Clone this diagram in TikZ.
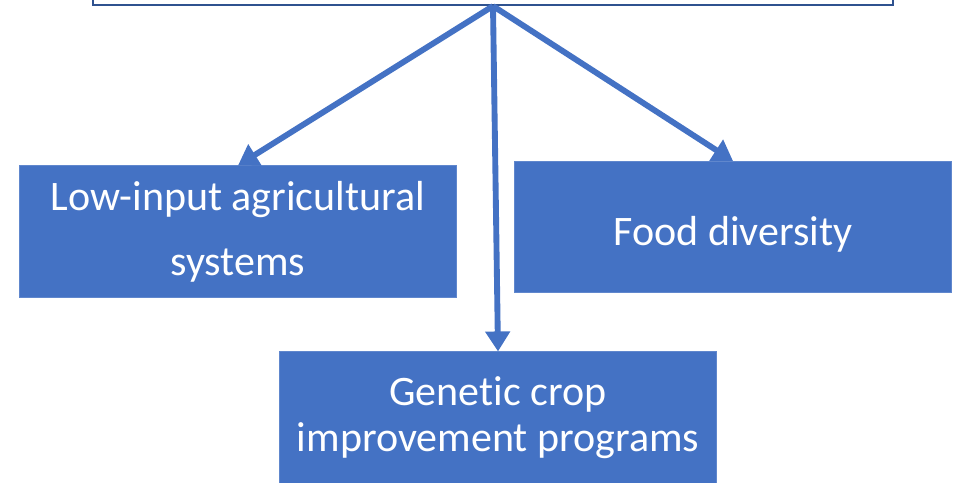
\documentclass[tikz,border=0pt]{standalone}
\usepackage{fontspec}
\setmainfont{Carlito}[Ligatures=NoCommon]
\usetikzlibrary{shapes, calc, arrows.meta}

\definecolor{boxblue}{HTML}{4472C4}
\definecolor{edgeblue}{HTML}{2F528F}

\tikzset{
	branch/.style={rectangle, fill=boxblue, draw=boxblue!85!white, line width=0.6pt,
		text=white, align=center, inner sep=0pt,
		minimum width=328pt, minimum height=98.5pt,
		font=\fontsize{31.5}{34}\selectfont},
	link/.style={draw=boxblue, line width=4.4pt,
		-{Triangle[length=15pt, width=18pt]}}
}

\begin{document}
\begin{tikzpicture}[x=0.75pt, y=-0.75pt]
	\useasboundingbox (0,0) rectangle (962,482);

	\node[draw=edgeblue, line width=1.6pt, rectangle, minimum width=600pt, minimum height=67.5pt] (maintopic) at (493,-40) {};

	\node[branch, font=\fontsize{31.5}{49}\selectfont] (lowinput) at (238,231.5)
		{Low-input agricultural\\systems};
	\node[branch, text height=27pt, text depth=0pt] (fooddiv)  at (733,227)
		{Food diversity};
	\node[branch] (genetic)  at (498,417.5)
		{Genetic crop\\improvement programs};

	\draw[link] (maintopic.south) -- (lowinput.north);
	\draw[link] (maintopic.south) -- (fooddiv.north);
	\draw[link] (maintopic.south) -- (genetic.north);
\end{tikzpicture}
\end{document}
